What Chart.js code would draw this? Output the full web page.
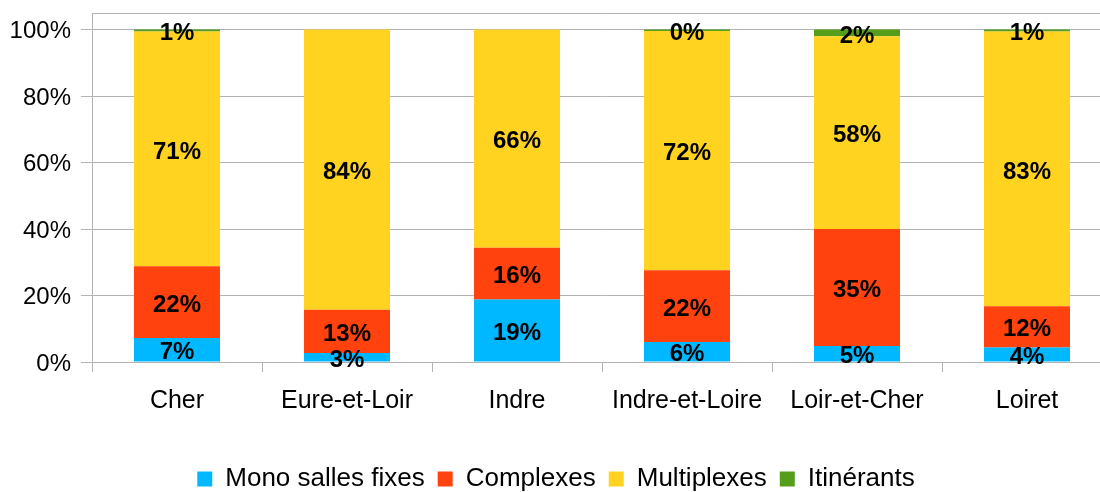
<!DOCTYPE html>
<html>
<head>
<meta charset="utf-8">
<script src="https://cdn.jsdelivr.net/npm/chart.js@4"></script>
<style>
  html, body { margin: 0; padding: 0; background: #fff; }
  #wrap { width: 1100px; height: 492px; overflow: hidden; }
</style>
</head>
<body>
<div id="wrap"><canvas id="chart" width="1112" height="502"></canvas></div>
<script>
const departements = ["Cher", "Eure-et-Loir", "Indre", "Indre-et-Loire", "Loir-et-Cher", "Loiret"];
const monoSalles = [7.2, 2.7, 18.8, 6.0, 4.8, 4.4];
const complexes = [21.6, 13.0, 15.6, 21.6, 35.2, 12.4];
const multiplexes = [70.6, 84.3, 65.6, 72.0, 58.0, 82.6];
const itinerants = [0.6, 0, 0, 0.4, 2.0, 0.6];
const yTicks = [0, 20, 40, 60, 80, 100];

const gridColor = "#b3b3b3";
const fontFamily = "'Liberation Sans', Arial, sans-serif";

// % labels centred in each stacked segment
const segmentLabels = {
  id: "segmentLabels",
  afterDatasetsDraw(chart) {
    const { ctx } = chart;
    ctx.save();
    ctx.font = "bold 24px " + fontFamily;
    ctx.fillStyle = "#000";
    ctx.textAlign = "center";
    ctx.textBaseline = "middle";
    chart.data.datasets.forEach((ds, i) => {
      const meta = chart.getDatasetMeta(i);
      meta.data.forEach((bar, j) => {
        const v = ds.data[j];
        if (!v) return;
        const y = (bar.y + bar.base) / 2;
        ctx.fillText(Math.round(v) + "%", bar.x, y + 3);
      });
    });
    ctx.restore();
  },
};

const ctx = document.getElementById("chart").getContext("2d");

new Chart(ctx, {
  type: "bar",
  data: {
    labels: departements,
    datasets: [
      { label: "Mono salles fixes", data: monoSalles, backgroundColor: "#00b8ff" },
      { label: "Complexes", data: complexes, backgroundColor: "#ff420e" },
      { label: "Multiplexes", data: multiplexes, backgroundColor: "#ffd320" },
      { label: "Itinérants", data: itinerants, backgroundColor: "#579d1c" },
    ],
  },
  options: {
    responsive: false,
    animation: false,
    layout: { padding: { top: 13, left: 0, right: 0, bottom: 0 } },
    datasets: {
      bar: { barPercentage: 0.506, categoryPercentage: 1.0, borderWidth: 0 },
    },
    scales: {
      x: {
        stacked: true,
        grid: {
          offset: true,
          drawOnChartArea: false,
          color: gridColor,
          tickLength: 10,
        },
        border: { color: gridColor },
        ticks: {
          color: "#000",
          font: { family: fontFamily, size: 25 },
          padding: 14,
          maxRotation: 0,
        },
        afterFit: (scale) => {
          scale.height = 91;
        },
      },
      y: {
        stacked: true,
        min: 0,
        max: 105,
        grid: {
          color: gridColor,
          tickLength: 11,
          tickColor: (c) => (c.tick && c.tick.value === 105 ? "rgba(0,0,0,0)" : gridColor),
        },
        border: { color: gridColor },
        ticks: {
          color: "#000",
          font: { family: fontFamily, size: 24 },
          padding: 10,
          labelOffset: 2,
          callback: (v) => (v === 105 ? "" : v + "%"),
        },
        afterBuildTicks: (scale) => {
          scale.ticks = yTicks.concat([105]).map((v) => ({ value: v }));
        },
        afterFit: (scale) => {
          scale.width = 92;
          scale.paddingTop = 0;
          scale.paddingBottom = 0;
        },
      },
    },
    plugins: {
      legend: {
        position: "bottom",
        labels: {
          color: "#000",
          font: { family: fontFamily, size: 26 },
          boxWidth: 15,
          boxHeight: 15,
          padding: 13,
        },
      },
      tooltip: { enabled: false },
    },
  },
  plugins: [segmentLabels],
});
</script>
</body>
</html>
